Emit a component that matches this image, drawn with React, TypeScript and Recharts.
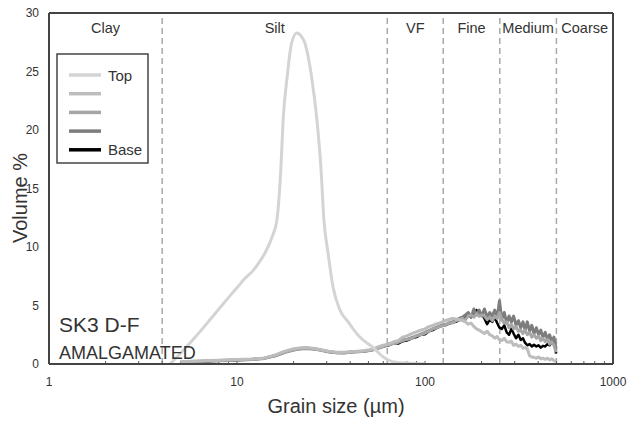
import {
  LineChart,
  Line,
  XAxis,
  YAxis,
  ReferenceLine,
  ReferenceArea,
} from "recharts";

// grain size bins (µm) shared by the four sample curves
const SIZES = [
  5, 6, 7, 8, 10, 12, 14, 16, 18, 20, 22, 24, 26, 28, 31, 34, 37, 40, 44, 48, 52, 56, 60,
  64, 68, 72, 76, 80, 85, 90, 95, 100, 105, 110, 116, 122,
  128, 134, 140, 146, 152, 158, 164, 170, 176, 182, 188, 194, 200,
  207, 214, 221, 228, 235, 242, 249,
  256, 264, 272, 280, 288, 296, 305, 314, 323, 332, 341,
  350, 360, 370, 380, 391, 402, 413, 424, 436, 448, 460, 472, 485, 498,
];

const S2_VOL = [
  0.2, 0.25, 0.3, 0.32, 0.38, 0.42, 0.52, 0.78, 1.1, 1.3, 1.4, 1.4, 1.32, 1.22, 1.08, 1.0, 1.0, 1.05, 1.1, 1.15, 1.25, 1.45, 1.6,
  1.7, 1.9, 2.0, 2.3, 2.4, 2.6, 2.75, 2.9, 3.0, 3.2, 3.3, 3.45, 3.55,
  3.7, 3.8, 3.9, 3.85, 3.8, 3.7, 3.6, 3.4, 3.5, 3.2, 3.0, 2.9, 2.75,
  2.6, 2.8, 2.5, 2.4, 2.2, 2.35, 2.05,
  2.0, 2.2, 1.9, 1.85, 1.95, 1.6, 1.7, 1.5, 1.6, 1.35, 1.4,
  1.3, 0.7, 0.6, 0.55, 0.5, 0.6, 0.45, 0.5, 0.4, 0.5, 0.35, 0.45, 0.3, 0.2,
];

const S3_VOL = [
  0.18, 0.22, 0.27, 0.3, 0.36, 0.4, 0.5, 0.72, 1.02, 1.22, 1.32, 1.33, 1.28, 1.18, 1.05, 0.97, 0.97, 1.0, 1.06, 1.1, 1.18, 1.32, 1.48,
  1.65, 1.75, 1.85, 2.0, 2.1, 2.2, 2.4, 2.5, 2.65, 2.8, 3.0, 3.1, 3.25,
  3.3, 3.5, 3.5, 3.7, 3.75, 3.9, 3.8, 4.1, 4.2, 4.0, 4.3, 4.1, 4.2,
  4.1, 3.8, 4.0, 3.7, 4.1, 3.9, 4.4,
  3.8, 3.5, 3.6, 3.1, 3.4, 3.0, 3.2, 2.8, 2.9, 2.6, 2.9,
  2.5, 2.7, 2.3, 2.5, 2.2, 2.4, 2.0, 2.2, 1.9, 2.1, 1.7, 1.9, 1.6, 1.0,
];

const S4_VOL = [
  0.12, 0.18, 0.22, 0.28, 0.33, 0.38, 0.48, 0.7, 1.0, 1.2, 1.3, 1.32, 1.27, 1.17, 1.03, 0.96, 0.95, 1.0, 1.05, 1.08, 1.2, 1.38, 1.52,
  1.7, 1.8, 1.9, 2.05, 2.1, 2.25, 2.4, 2.55, 2.7, 2.85, 3.0, 3.15, 3.3,
  3.35, 3.5, 3.6, 3.7, 3.9, 4.0, 4.2, 4.4, 4.0, 4.7, 4.2, 4.6, 4.1,
  4.7, 4.0, 4.4, 4.1, 4.6, 3.9, 5.4,
  3.8, 4.4, 3.5, 4.1, 3.6, 4.1, 3.3, 3.7, 3.1, 3.6, 2.9,
  3.6, 2.8, 3.3, 2.6, 3.1, 2.5, 2.9, 2.3, 2.7, 2.1, 2.5, 1.9, 2.3, 1.3,
];

const BASE_VOL = [
  0.15, 0.2, 0.25, 0.3, 0.35, 0.4, 0.5, 0.75, 1.05, 1.25, 1.35, 1.35, 1.3, 1.2, 1.05, 0.98, 0.98, 1.02, 1.08, 1.1, 1.2, 1.35, 1.5,
  1.6, 1.8, 1.75, 1.95, 2.0, 2.2, 2.3, 2.5, 2.55, 2.8, 2.9, 3.1, 3.25,
  3.3, 3.45, 3.55, 3.6, 3.75, 3.9, 4.0, 4.2, 4.0, 4.4, 4.6, 4.1, 4.3,
  3.9, 3.4, 3.8, 3.6, 4.0, 3.5, 3.1,
  3.0, 3.3, 2.7, 2.5, 3.0, 2.6, 2.2, 2.5, 2.05, 2.2, 1.8,
  1.6, 1.7, 1.5, 1.65, 1.5, 1.6, 1.4, 1.55, 1.5, 1.7, 1.6, 1.9, 2.05, 0.9,
];

// the top sample has its own, smoother size distribution
const TOP_SIZES = [
  4.4, 5, 6, 7.2, 8.5, 10.1, 11, 12.2, 13, 14.1, 15.4, 16.3, 17.1, 17.6, 18.5, 19.5, 20.8, 22, 23, 24.9,
  26.6, 28, 29, 30.5, 32.4, 35.3, 39, 45, 53, 60, 67, 75, 85, 100,
];
const TOP_VOL = [
  0, 0.9, 2.3, 3.8, 5.2, 6.6, 7.3, 8.0, 8.6, 9.5, 10.9, 12.3, 16.6, 20.9, 24.6, 27.4, 28.3, 28.0, 27.4, 24.6,
  20.9, 16.6, 12.3, 9.5, 6.6, 4.6, 3.6, 2.3, 1.4, 0.6, 0.2, 0.1, 0.05, 0.02,
];

// Wentworth class boundaries (µm)
const CLASS_EDGES = [1, 4, 63, 125, 250, 500, 1000];
const CLASS_NAMES = ["Clay", "Silt", "VF", "Fine", "Medium", "Coarse"];

const X_TICKS = [1, 10, 100, 1000];
const Y_TICKS = [0, 5, 10, 15, 20, 25, 30];
const MINOR_TICKS = [
  2, 3, 4, 5, 6, 7, 8, 9, 10, 20, 30, 40, 50, 60, 70, 80, 90, 100,
  200, 300, 400, 500, 600, 700, 800, 900,
];

const rows = SIZES.map((size, i) => ({
  size,
  s2: S2_VOL[i],
  s3: S3_VOL[i],
  s4: S4_VOL[i],
  base: BASE_VOL[i],
}));
const topRows = TOP_SIZES.map((size, i) => ({ size, top: TOP_VOL[i] }));

// legend order, top to bottom of the core
const SERIES = [
  { key: "top", name: "Top", color: "#d4d4d4", width: 3 },
  { key: "s2", name: "", color: "#bdbdbd", width: 3 },
  { key: "s3", name: "", color: "#a6a6a6", width: 3 },
  { key: "s4", name: "", color: "#7d7d7d", width: 3 },
  { key: "base", name: "Base", color: "#000000", width: 2.5 },
];
// paint the base first so the lighter samples sit over it
const DRAW_ORDER = ["base", "s4", "s3", "s2", "top"];

const W = 627;
const H = 423;
const FONT = '"Liberation Sans", Arial, Helvetica, sans-serif';
const INK = "#333";

export default function App() {
  const drawn = DRAW_ORDER.map((k) => SERIES.find((s) => s.key === k)!);
  return (
    <div
      style={{
        position: "absolute",
        left: 0,
        top: 0,
        width: W,
        height: H,
        background: "#fff",
        fontFamily: FONT,
      }}
    >
      <LineChart
        width={W}
        height={H}
        data={rows}
        margin={{ top: 13, right: 14, bottom: 29, left: 19 }}
      >
        <XAxis
          dataKey="size"
          type="number"
          scale="log"
          domain={[1, 1000]}
          ticks={X_TICKS}
          allowDataOverflow
          height={30}
          tickLine={false}
          tickMargin={7}
          axisLine={{ stroke: "#444", strokeWidth: 2 }}
          tick={{ fontSize: 12, fill: INK }}
        />
        <YAxis
          type="number"
          domain={[0, 30]}
          ticks={Y_TICKS}
          allowDataOverflow
          width={30}
          tickLine={false}
          tickMargin={4}
          axisLine={{ stroke: "#444", strokeWidth: 2 }}
          tick={{ fontSize: 12, fill: INK }}
        />

        {CLASS_NAMES.map((name, i) => (
          <ReferenceArea
            key={name}
            x1={CLASS_EDGES[i]}
            x2={CLASS_EDGES[i + 1]}
            fillOpacity={0}
            strokeOpacity={0}
            label={{ value: name, position: "insideTop", offset: 10, fill: INK, fontSize: 14.5 }}
          />
        ))}
        {CLASS_EDGES.slice(1, -1).map((edge) => (
          <ReferenceLine
            key={edge}
            x={edge}
            stroke="#a8a8a8"
            strokeWidth={1.5}
            strokeDasharray="6 4"
          />
        ))}
        {MINOR_TICKS.map((t) => (
          <ReferenceLine
            key={"m" + t}
            segment={[
              { x: t, y: 0 },
              { x: t, y: 0.25 },
            ]}
            stroke="#555"
            strokeWidth={1}
          />
        ))}
        {/* frame on the top and right */}
        <ReferenceLine y={30} stroke="#444" strokeWidth={2} />
        <ReferenceLine x={1000} stroke="#444" strokeWidth={2} />

        {drawn.map((s) => (
          <Line
            key={s.key}
            data={s.key === "top" ? topRows : undefined}
            dataKey={s.key}
            name={s.name}
            type={s.key === "top" ? "monotone" : "linear"}
            stroke={s.color}
            strokeWidth={s.width}
            strokeLinejoin="round"
            dot={false}
            activeDot={false}
            isAnimationActive={false}
          />
        ))}
      </LineChart>

      <svg
        width={W}
        height={H}
        style={{ position: "absolute", left: 0, top: 0, pointerEvents: "none" }}
      >
        {/* legend */}
        <rect x={57} y={54} width={91} height={109} fill="#fff" stroke="#444" strokeWidth={1.5} />
        {SERIES.map((s, i) => (
          <g key={s.key}>
            <line
              x1={69}
              x2={101}
              y1={75 + i * 18.7}
              y2={75 + i * 18.7}
              stroke={s.color}
              strokeWidth={3.5}
            />
            {s.name && (
              <text x={108} y={80.5 + i * 18.7} fontSize={15} fill={INK}>
                {s.name}
              </text>
            )}
          </g>
        ))}

        <text x={59} y={332} fontSize={21} fill={INK}>
          SK3 D-F
        </text>
        <text x={59} y={359} fontSize={18} fill={INK}>
          AMALGAMATED
        </text>

        <text x={336} y={413} fontSize={20} fill={INK} textAnchor="middle">
          Grain size (µm)
        </text>
        <text
          x={27}
          y={198}
          fontSize={20}
          fill={INK}
          textAnchor="middle"
          transform="rotate(-90 27 198)"
        >
          Volume %
        </text>
      </svg>
    </div>
  );
}
